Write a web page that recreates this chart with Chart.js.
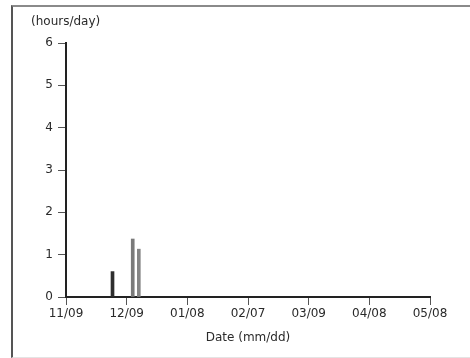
<!DOCTYPE html>
<html>
<head>
<meta charset="utf-8">
<script src="https://cdn.jsdelivr.net/npm/chart.js@4/dist/chart.umd.min.js"></script>
<style>
  body { margin: 0; background: #fff; }
  #frame {
    position: absolute; left: 11px; top: 5px; width: 459px; height: 350px;
    border-left: 2px solid #555; border-top: 2px solid #8a8a8a; border-bottom: 1px solid #e4e4e4;
  }
  #wrap { position: absolute; left: 0; top: 0; width: 470px; height: 358px; }
</style>
</head>
<body>
<div id="frame"></div>
<div id="wrap"><canvas id="myChart"></canvas></div>
<script>
// days since 11/09, ticks every 30 days
const tickDays = [0, 30, 60, 90, 120, 150, 180];
const tickLabels = ['11/09', '12/09', '01/08', '02/07', '03/09', '04/08', '05/08'];
const useDays = [23, 33, 36];
const useHours = [0.6, 1.37, 1.13];
const barColors = ['#2e2e2e', '#7a7a7a', '#858585'];

const points = useDays.map((d, i) => ({ x: d, y: useHours[i] }));
const FONT = '"DejaVu Sans", sans-serif';

const axisText = {
    id: 'axisText',
    afterDraw(chart) {
        const ctx = chart.ctx;
        const area = chart.chartArea;
        ctx.save();
        ctx.fillStyle = '#2a2a2a';
        ctx.font = '12px ' + FONT;
        ctx.textAlign = 'left';
        ctx.textBaseline = 'middle';
        ctx.fillText('(hours/day)', 31, 22);
        ctx.textAlign = 'center';
        ctx.fillText('Date (mm/dd)', 248, 338);
        ctx.restore();
    }
};

const config = {
    type: 'bar',
    data: {
        datasets: [{
            data: points,
            backgroundColor: barColors,
            barThickness: 3
        }]
    },
    plugins: [axisText],
    options: {
        responsive: true,
        maintainAspectRatio: false,
        animation: false,
        layout: { padding: { left: 0, top: 43, right: 40, bottom: 0 } },
        plugins: {
            legend: { display: false },
            tooltip: { enabled: false }
        },
        scales: {
            x: {
                type: 'linear',
                offset: false,
                min: 0,
                max: 180,
                afterBuildTicks: (scale) => { scale.ticks = tickDays.map(v => ({ value: v })); },
                afterFit: (scale) => { scale.height = 61; },
                grid: { offset: false, drawOnChartArea: false, drawTicks: true, tickLength: 8, color: '#555', lineWidth: 1 },
                border: { display: true, color: '#222', width: 2 },
                ticks: {
                    color: '#2a2a2a',
                    font: { family: FONT, size: 12 },
                    padding: 2,
                    maxRotation: 0,
                    autoSkip: false,
                    callback: (v, i) => tickLabels[i]
                }
            },
            y: {
                min: 0,
                max: 6,
                afterFit: (scale) => { scale.width = 66; },
                grid: { drawOnChartArea: false, drawTicks: true, tickLength: 8, color: '#555', lineWidth: 1 },
                border: { display: true, color: '#222', width: 2 },
                ticks: {
                    stepSize: 1,
                    color: '#2a2a2a',
                    font: { family: FONT, size: 12 },
                    padding: 5
                }
            }
        }
    }
};

const ctxChart = document.getElementById('myChart').getContext('2d');
const chart = new Chart(ctxChart, config);
</script>
</body>
</html>
